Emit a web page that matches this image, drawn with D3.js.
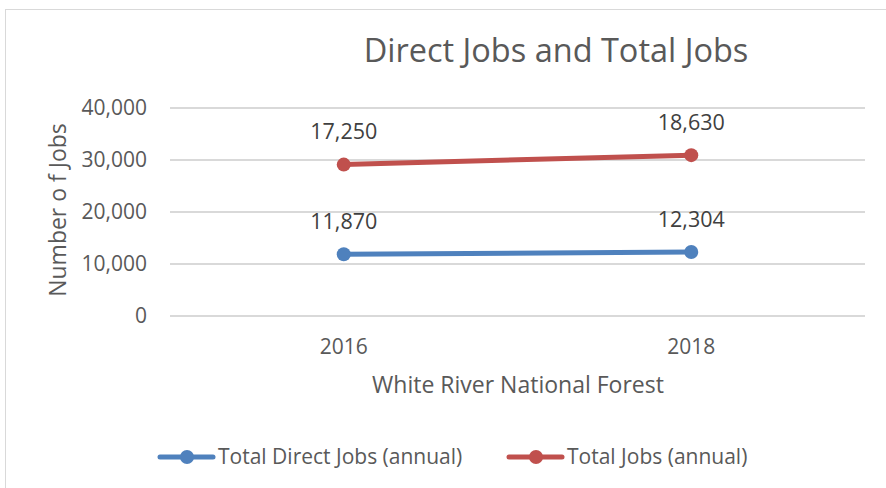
<!DOCTYPE html>
<html>
<head>
<meta charset="utf-8">
<script src="https://cdn.jsdelivr.net/npm/d3@7"></script>
<style>
  body { margin: 0; background: #fff; }
  text { font-family: "Open Sans", Lato, sans-serif; }
</style>
</head>
<body>
<svg width="886" height="488"></svg>
<script>
var years = ["2016", "2018"];
var directJobs = [11870, 12304];
var totalJobs = [17250, 18630];
var seriesNames = ["Total Direct Jobs (annual)", "Total Jobs (annual)"];
var colors = ["#4F81BD", "#C0504D"];
var yTicks = [0, 10000, 20000, 30000, 40000];

var svg = d3.select("svg");

// chart border
svg.append("rect")
    .attr("x", 5.5).attr("y", 9.5)
    .attr("width", 900).attr("height", 500)
    .attr("fill", "none").attr("stroke", "#d9d9d9");

var plotLeft = 170, plotRight = 865, plotTop = 108, plotBottom = 316;

var x = d3.scalePoint().domain(years).range([plotLeft, plotRight]).padding(0.5);
var y = d3.scaleLinear().domain([0, 40000]).range([plotBottom, plotTop]);

// gridlines
svg.selectAll(".grid")
    .data(yTicks)
  .enter().append("line")
    .attr("x1", plotLeft).attr("x2", plotRight)
    .attr("y1", d => y(d)).attr("y2", d => y(d))
    .attr("stroke", "#d9d9d9").attr("stroke-width", 2);

var fmt = d3.format(",");

// y tick labels
svg.selectAll(".ytick")
    .data(yTicks)
  .enter().append("text")
    .attr("x", 147).attr("y", d => y(d))
    .attr("dy", "0.35em")
    .attr("text-anchor", "end")
    .attr("font-size", 21).attr("fill", "#595959")
    .text(d => fmt(d));

// x tick labels
svg.selectAll(".xtick")
    .data(years)
  .enter().append("text")
    .attr("x", d => x(d)).attr("y", 347)
    .attr("dy", "0.35em")
    .attr("text-anchor", "middle")
    .attr("font-size", 21).attr("fill", "#595959")
    .text(d => d);

// stacked line: total jobs drawn on top of direct jobs
var series = [
  years.map((yr, i) => ({year: yr, value: directJobs[i], pos: directJobs[i]})),
  years.map((yr, i) => ({year: yr, value: totalJobs[i], pos: directJobs[i] + totalJobs[i]}))
];

var line = d3.line().x(d => x(d.year)).y(d => y(d.pos));

series.forEach(function(s, k) {
  svg.append("path")
      .attr("d", line(s))
      .attr("fill", "none")
      .attr("stroke", colors[k]).attr("stroke-width", 5)
      .attr("stroke-linecap", "round");
  svg.selectAll(".pt" + k)
      .data(s)
    .enter().append("circle")
      .attr("cx", d => x(d.year)).attr("cy", d => y(d.pos))
      .attr("r", 7).attr("fill", colors[k]);
  svg.selectAll(".lbl" + k)
      .data(s)
    .enter().append("text")
      .attr("x", d => x(d.year)).attr("y", d => y(d.pos) - 33)
      .attr("dy", "0.35em")
      .attr("text-anchor", "middle")
      .attr("font-size", 21.5).attr("fill", "#404040")
      .text(d => fmt(d.value));
});

// titles
svg.append("text")
    .attr("x", 556).attr("y", 51).attr("dy", "0.35em")
    .attr("text-anchor", "middle")
    .attr("font-size", 32.5).attr("fill", "#595959")
    .text("Direct Jobs and Total Jobs");

svg.append("text")
    .attr("x", 518).attr("y", 385).attr("dy", "0.35em")
    .attr("text-anchor", "middle")
    .attr("font-size", 23).attr("fill", "#595959")
    .text("White River National Forest");

svg.append("text")
    .attr("transform", "translate(58,210) rotate(-90)")
    .attr("dy", "0.35em")
    .attr("text-anchor", "middle")
    .attr("font-size", 23).attr("fill", "#595959")
    .text("Number o f Jobs");

// legend
var legendX = [158, 507];
seriesNames.forEach(function(name, k) {
  var g = svg.append("g").attr("transform", "translate(" + legendX[k] + ",457)");
  g.append("line").attr("x1", 2).attr("x2", 55)
      .attr("stroke", colors[k]).attr("stroke-width", 5).attr("stroke-linecap", "round");
  g.append("circle").attr("cx", 29).attr("r", 7).attr("fill", colors[k]);
  g.append("text").attr("x", 60).attr("dy", "0.35em")
      .attr("font-size", 21).attr("fill", "#595959")
      .text(name);
});
</script>
</body>
</html>
